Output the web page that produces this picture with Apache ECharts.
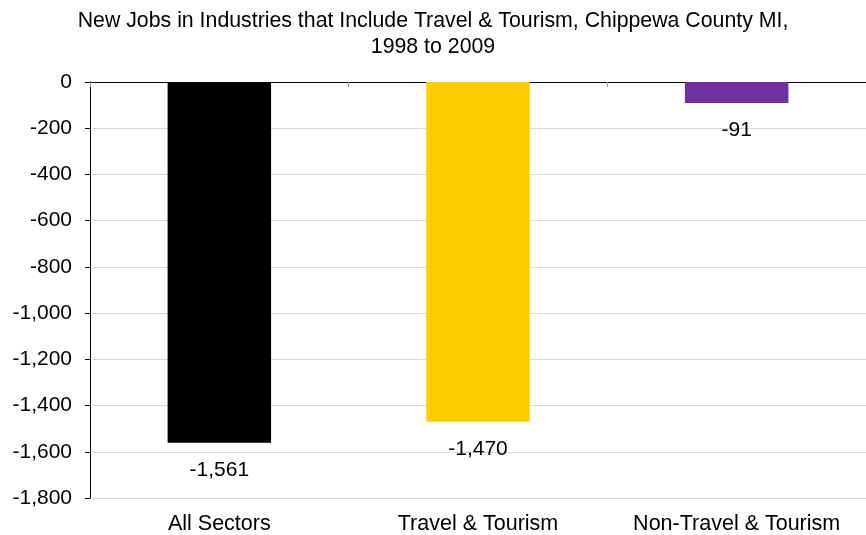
<!DOCTYPE html>
<html>
<head>
<meta charset="utf-8">
<script src="https://cdn.jsdelivr.net/npm/echarts@6/dist/echarts.min.js"></script>
<style>
  html, body { margin: 0; padding: 0; background: #fff; }
  #chart { width: 866px; height: 535px; }
</style>
</head>
<body>
<div id="chart"></div>
<script>
// Change in jobs, 1998 to 2009
const categories = ['All Sectors', 'Travel & Tourism', 'Non-Travel & Tourism'];
const jobChange = [-1561, -1470, -91];
const barColors = ['#000000', '#ffcc00', '#7030a0'];

const FONT = '"Liberation Sans", Arial, sans-serif';
const fmt = v => v.toLocaleString('en-US');

const chart = echarts.init(document.getElementById('chart'), null, { renderer: 'canvas' });
chart.setOption({
  animation: false,
  backgroundColor: '#ffffff',
  title: {
    text: 'New Jobs in Industries that Include Travel & Tourism, Chippewa County MI,\n1998 to 2009',
    left: 'center',
    top: 3,
    textStyle: { fontFamily: FONT, fontSize: 21.3, fontWeight: 'normal', color: '#000', lineHeight: 26 }
  },
  grid: { left: 90, right: 0, top: 82, bottom: 37, containLabel: false, outerBoundsMode: 'none' },
  xAxis: [
    {
      type: 'category',
      data: categories,
      position: 'bottom',
      axisLine: { show: false },
      axisTick: { show: false },
      axisLabel: { interval: 0, hideOverlap: false, fontFamily: FONT, fontSize: 21.5, color: '#000', margin: 15 }
    },
    {
      type: 'category',
      data: categories,
      position: 'top',
      axisLine: { show: true, onZero: false, lineStyle: { color: '#000', width: 1 } },
      axisTick: { show: true, inside: true, length: 5, lineStyle: { color: '#999' } },
      axisLabel: { show: false }
    }
  ],
  yAxis: {
    type: 'value',
    min: -1800,
    max: 0,
    interval: 200,
    axisLine: { show: true, lineStyle: { color: '#000' } },
    axisTick: { show: true, length: 5, lineStyle: { color: '#000' } },
    splitLine: { show: true, lineStyle: { color: '#d9d9d9' } },
    axisLabel: { fontFamily: FONT, fontSize: 21, color: '#000', margin: 18, formatter: fmt }
  },
  series: [{
    type: 'bar',
    xAxisIndex: 0,
    barWidth: '40%',
    data: jobChange.map((v, i) => ({ value: v, itemStyle: { color: barColors[i] } })),
    label: {
      show: true,
      position: 'bottom',
      distance: 17,
      fontFamily: FONT,
      fontSize: 21,
      color: '#000',
      formatter: p => fmt(p.value)
    }
  }]
});
</script>
</body>
</html>
